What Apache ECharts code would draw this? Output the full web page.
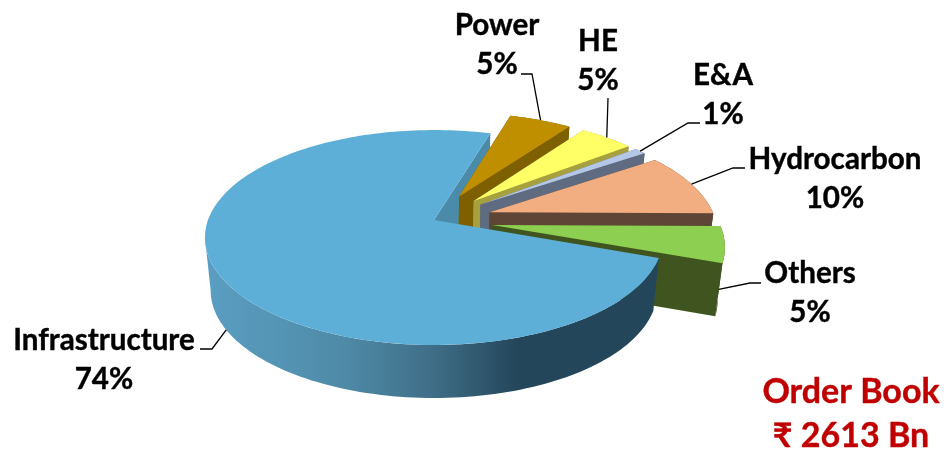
<!DOCTYPE html>
<html><head><meta charset="utf-8">
<script src="https://cdn.jsdelivr.net/npm/echarts@6/dist/echarts.min.js"></script>
<style>html,body{margin:0;padding:0;background:#fff}#c{width:944px;height:450px}</style></head>
<body><div id="c"></div>
<script>
var categories = ['Infrastructure','Power','HE','E&A','Hydrocarbon','Others'];
var percentLabels = ['74%','5%','5%','1%','10%','5%'];
var sliceValues = [74.1,5.3,4.6,1.0,9.6,5.4];
var topColors = ['#5DAFD8','#BF8F00','#FFFF66','#B4C7E7','#F2AE80','#8DCF50'];
var wallColors = ['#4A8BA9','#7F6000','#A6A13E','#5F6B80','#5F4535','#3F541E'];
var explode = [0,0.26,0.26,0.26,0.26,0.26];
var labelX = [104,497,598,723,835,810];
var labelY = [360,45,61,95,179,293];
var leaderDrop = [1,0,0,0,0,0.85];
var leaderVia = [[[212,349],[200,349]],[[532,74],[521,74]],[[608,98]],[[688,123],[700,123]],[[733,168],[745,168]],[[750,283],[761,283]]];

var AX=434, AY=220, F=226, G=104.6, K=0.163, DEPTH=53, SHRINK=0.975, START=20;
function proj(u,v,low){
  var w=1-K*v, x=F*u/w, y=G*v/w;
  if(low){x*=SHRINK;y+=DEPTH;}
  return [AX+x,AY+y];
}
var slices=[];(function(){
  var a=START;
  sliceValues.forEach(function(p,i){
    var span=p*3.6, mid=(a+span/2)*Math.PI/180;
    slices.push({a0:a,a1:a+span,ox:explode[i]*Math.cos(mid),oy:explode[i]*Math.sin(mid),mid:mid});
    a+=span;
  });
})();
function arcPts(s,low,maxA){
  var pts=[],end=maxA===undefined?s.a1:Math.min(maxA,s.a1);
  var n=Math.max(4,Math.ceil((end-s.a0)/1.5));
  for(var i=0;i<=n;i++){
    var t=(s.a0+(end-s.a0)*i/n)*Math.PI/180;
    pts.push(proj(s.ox+Math.cos(t),s.oy+Math.sin(t),low));
  }
  return pts;
}
function poly(points,fill,z2){
  return {type:'polygon',shape:{points:points},z2:z2,silent:true,
    style:{fill:fill,stroke:null}};
}
function renderItem(params){
  var i=params.dataIndex,s=slices[i],base=i*10;
  var topZ=i===0?101:base+3, wallZ=i===0?100:base+2;
  var top=arcPts(s,false),low=arcPts(s,true);
  var apex=proj(s.ox,s.oy,false),apexLow=proj(s.ox,s.oy,true);
  var ch=[];
  var first=top[0],last=top[top.length-1],fl=low[0],ll=low[low.length-1];
  ch.push(poly([apex,last,ll,apexLow],wallColors[i],i===0?0:base));
  if(i!==0) ch.push(poly([apex,first,fl,apexLow],wallColors[i],base+1));
  if(i===0){
    var grad=new echarts.graphic.LinearGradient(0,0,1,0,[
      {offset:0,color:'#5A9EC2'},{offset:0.3,color:'#4F8BA8'},{offset:0.5,color:'#3F6E88'},
      {offset:0.69,color:'#24465A'},{offset:1,color:'#24465A'}]);
    var topFront=arcPts(s,false,170.6),lowFront=arcPts(s,true,170.6);
    ch.push(poly(topFront.concat(lowFront.reverse()),grad,wallZ));
  } else {
    ch.push(poly(top.concat(low.slice().reverse()),wallColors[i],wallZ));
  }
  ch.push(poly([apex].concat(top),topColors[i],topZ));
  var la=i===0?150*Math.PI/180:s.mid;
  var rt=proj(s.ox+Math.cos(la),s.oy+Math.sin(la),false),rl=proj(s.ox+Math.cos(la),s.oy+Math.sin(la),true);
  var d=leaderDrop[i],rim=[rt[0]+(rl[0]-rt[0])*d,rt[1]+(rl[1]-rt[1])*d];
  ch.push({type:'polyline',shape:{points:[rim].concat(leaderVia[i])},z2:200,silent:true,
    style:{stroke:'#000',lineWidth:1.3,fill:null}});
  ch.push({type:'text',z2:201,silent:true,x:labelX[i],y:labelY[i],style:{
    text:categories[i]+'\n'+percentLabels[i],fill:'#000',stroke:'#000',lineWidth:0.4,
    font:'bold 29.6px Lato, "Noto Sans"',lineHeight:39,align:'center',verticalAlign:'middle'}});
  return {type:'group',children:ch};
}
var chart=echarts.init(document.getElementById('c'),null,{renderer:'canvas'});
chart.setOption({
  animation:false,
  series:[{type:'custom',coordinateSystem:'none',renderItem:renderItem,
    data:sliceValues.map(function(p,i){return {name:categories[i],value:p};}),silent:true}],
  graphic:[{type:'text',x:851,y:392,z:10,silent:true,style:{text:'Order Book',fill:'#C00000',stroke:'#C00000',lineWidth:0.4,
      font:'bold 34px Lato, "Noto Sans"',align:'center',verticalAlign:'middle'}},
    {type:'text',x:851,y:436,z:10,silent:true,style:{text:'\u20B9 2613 Bn',fill:'#C00000',stroke:'#C00000',lineWidth:0.4,
      font:'bold 34px Lato, "Noto Sans"',align:'center',verticalAlign:'middle'}}]
});
</script></body></html>
